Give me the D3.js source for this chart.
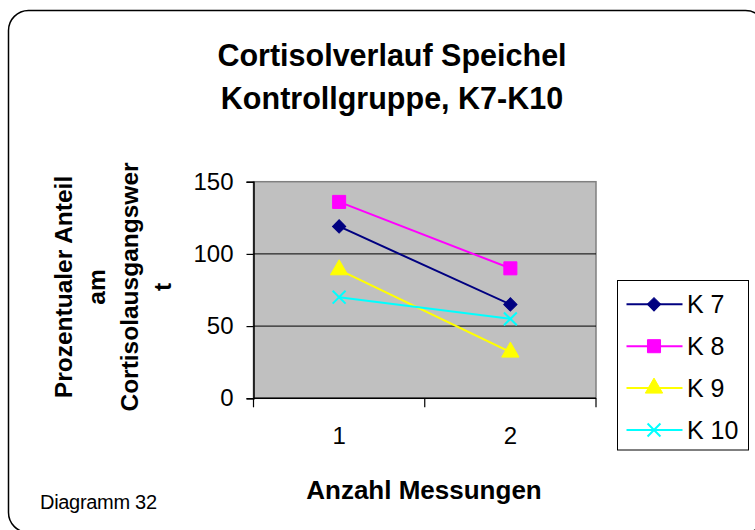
<!DOCTYPE html>
<html>
<head>
<meta charset="utf-8">
<script src="https://cdn.jsdelivr.net/npm/d3@7"></script>
<style>
  html, body { margin: 0; padding: 0; background: #fff; }
  svg { display: block; font-family: "Liberation Sans", Arial, sans-serif; }
</style>
</head>
<body>
<svg id="chart" width="755" height="530"></svg>
<script>
// data
const categories = ["1", "2"];
const seriesNames = ["K 7", "K 8", "K 9", "K 10"];
const k7 = [119, 65];
const k8 = [136, 90];
const k9 = [89, 32];
const k10 = [70, 55];
const yTicks = [0, 50, 100, 150];
const titleLines = ["Cortisolverlauf Speichel", "Kontrollgruppe, K7-K10"];
const yTitleLines = ["Prozentualer Anteil", "am", "Cortisolausgangswer", "t"];
const xTitle = "Anzahl Messungen";
const footnote = "Diagramm 32";

const series = [
  { name: seriesNames[0], values: k7, color: "#000080", shape: "diamond" },
  { name: seriesNames[1], values: k8, color: "#FF00FF", shape: "square" },
  { name: seriesNames[2], values: k9, color: "#FFFF00", shape: "triangle" },
  { name: seriesNames[3], values: k10, color: "#00FFFF", shape: "cross" },
];

const svg = d3.select("#chart");
const plot = { left: 253.5, right: 596, top: 181.7, bottom: 398.3 };

// outer rounded frame
svg.append("rect")
  .attr("x", 8.5).attr("y", 10.5)
  .attr("width", 757).attr("height", 522)
  .attr("rx", 20).attr("ry", 20)
  .attr("fill", "#fff")
  .attr("stroke", "#000")
  .attr("stroke-width", 1.5);

const x = d3.scaleBand()
  .domain(categories)
  .range([plot.left, plot.right])
  .padding(0);

const y = d3.scaleLinear()
  .domain([0, 150])
  .range([plot.bottom, plot.top]);

// plot area
svg.append("rect")
  .attr("x", plot.left).attr("y", plot.top)
  .attr("width", plot.right - plot.left)
  .attr("height", plot.bottom - plot.top)
  .attr("fill", "#C0C0C0")
  .attr("stroke", "#808080")
  .attr("stroke-width", 1.5);

// gridlines
svg.append("g")
  .selectAll("line")
  .data(yTicks.filter(d => d > 0 && d < 150))
  .enter()
  .append("line")
  .attr("x1", plot.left).attr("x2", plot.right)
  .attr("y1", d => y(d)).attr("y2", d => y(d))
  .attr("stroke", "#000")
  .attr("stroke-width", 1);

// y axis
const yAxis = svg.append("g")
  .attr("transform", `translate(${plot.left},0)`)
  .call(d3.axisLeft(y).tickValues(yTicks).tickSize(7).tickPadding(13));
yAxis.select(".domain").attr("stroke", "#000").attr("stroke-width", 1.5);
yAxis.selectAll(".tick line").attr("stroke", "#000").attr("stroke-width", 1.2);
yAxis.selectAll(".tick text")
  .attr("font-family", "Liberation Sans, Arial, sans-serif")
  .attr("font-size", 24)
  .attr("fill", "#000");

// x axis line + ticks at category boundaries
svg.append("line")
  .attr("x1", plot.left).attr("x2", plot.right)
  .attr("y1", plot.bottom).attr("y2", plot.bottom)
  .attr("stroke", "#000").attr("stroke-width", 1.5);

const bounds = categories.map(c => x(c)).concat([x.range()[1]]);
svg.append("g")
  .selectAll("line")
  .data(bounds)
  .enter()
  .append("line")
  .attr("x1", d => d).attr("x2", d => d)
  .attr("y1", plot.bottom).attr("y2", plot.bottom + 9)
  .attr("stroke", "#000").attr("stroke-width", 1.2);

svg.append("g")
  .selectAll("text")
  .data(categories)
  .enter()
  .append("text")
  .attr("x", d => x(d) + x.bandwidth() / 2)
  .attr("y", 444)
  .attr("text-anchor", "middle")
  .attr("font-size", 24)
  .text(d => d);

// markers
const symbolFor = {
  diamond: d3.symbol().type(d3.symbolSquare).size(88),
  square: d3.symbol().type(d3.symbolSquare).size(170),
  triangle: d3.symbol().type(d3.symbolTriangle).size(130),
  cross: d3.symbol().type(d3.symbolX).size(110),
};

function drawMarker(g, s, cx, cy) {
  const rot = s.shape === "diamond" ? " rotate(45)" : "";
  const p = g.append("path")
    .attr("d", symbolFor[s.shape]())
    .attr("transform", `translate(${cx},${cy})${rot}`);
  if (s.shape === "cross") {
    p.attr("fill", "none").attr("stroke", s.color).attr("stroke-width", 2);
  } else {
    p.attr("fill", s.color).attr("stroke", s.color).attr("stroke-width", 1);
  }
}

const line = d3.line()
  .x((d, i) => x(categories[i]) + x.bandwidth() / 2)
  .y(d => y(d));

series.forEach(s => {
  const g = svg.append("g");
  g.append("path")
    .attr("d", line(s.values))
    .attr("fill", "none")
    .attr("stroke", s.color)
    .attr("stroke-width", 2);
  s.values.forEach((v, i) => {
    drawMarker(g, s, x(categories[i]) + x.bandwidth() / 2, y(v));
  });
});

// title
svg.append("g")
  .selectAll("text")
  .data(titleLines)
  .enter()
  .append("text")
  .attr("x", 392)
  .attr("y", (d, i) => 66 + i * 42.5)
  .attr("text-anchor", "middle")
  .attr("font-size", 30.5)
  .attr("font-weight", "bold")
  .text(d => d);

// y axis title (rotated, 4 lines)
const yTitle = svg.append("text")
  .attr("transform", "translate(0,287) rotate(-90)")
  .attr("text-anchor", "middle")
  .attr("font-size", 24.5)
  .attr("font-weight", "bold");
yTitle.selectAll("tspan")
  .data(yTitleLines)
  .enter()
  .append("tspan")
  .attr("x", 0)
  .attr("y", (d, i) => 72 + i * 33)
  .text(d => d);

// x axis title
svg.append("text")
  .attr("x", 424)
  .attr("y", 499)
  .attr("text-anchor", "middle")
  .attr("font-size", 26)
  .attr("font-weight", "bold")
  .text(xTitle);

// footnote
svg.append("text")
  .attr("x", 40)
  .attr("y", 509)
  .attr("font-size", 20)
  .attr("letter-spacing", -0.3)
  .text(footnote);

// legend
const legend = svg.append("g");
legend.append("rect")
  .attr("x", 617.5).attr("y", 280.5)
  .attr("width", 131).attr("height", 169.5)
  .attr("fill", "#fff")
  .attr("stroke", "#000")
  .attr("stroke-width", 1);

const legendY = d3.scalePoint()
  .domain(seriesNames)
  .range([304.3, 430]);

series.forEach(s => {
  const cy = legendY(s.name);
  legend.append("line")
    .attr("x1", 626.5).attr("x2", 682.5)
    .attr("y1", cy).attr("y2", cy)
    .attr("stroke", s.color)
    .attr("stroke-width", 2);
  drawMarker(legend, s, 654, cy);
  legend.append("text")
    .attr("x", 687)
    .attr("y", cy + 9)
    .attr("font-size", 25)
    .text(s.name);
});
</script>
</body>
</html>
